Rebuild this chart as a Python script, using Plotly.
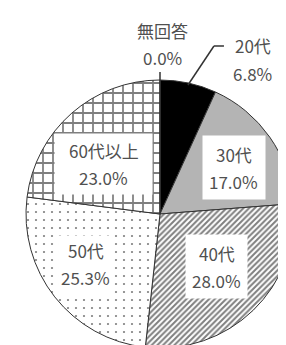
import math
import plotly.graph_objects as go

# ---- data ----
categories = ["20代", "30代", "40代", "50代", "60代以上", "無回答"]
values = [6.8, 17.0, 28.0, 25.3, 23.0, 0.0]
pct_labels = ["6.8%", "17.0%", "28.0%", "25.3%", "23.0%", "0.0%"]

# ---- style ----
W, H = 286, 345
CX, CY, R = 152, 206, 134
fills = ["#000000", "#b4b4b4", "#ffffff", "#ffffff", "#ffffff", "#ffffff"]
shapes_pat = ["", "", "/", ".", "+", ""]
pat_size = [8, 8, 4, 8, 10, 8]
pat_sol = [0.3, 0.3, 0.5, 0.06, 0.32, 0.3]
TXT = "#505050"
FONT = "Noto Sans CJK JP"
FS = 17

fig = go.Figure(go.Pie(
    labels=categories, values=values, sort=False, direction="clockwise",
    rotation=0, textinfo="none", hoverinfo="skip", showlegend=False,
    marker=dict(colors=fills, line=dict(color="#333333", width=1),
                pattern=dict(shape=shapes_pat, fgcolor="#000000", bgcolor="#ffffff",
                             size=pat_size, solidity=pat_sol, fillmode="overlay")),
    domain=dict(x=[(CX - R) / W, (CX + R) / W], y=[(H - CY - R) / H, (H - CY + R) / H]),
))

def px2paper(x, y):
    return x / W, 1 - y / H

total = sum(values)
cum = 0
mids = []
for v in values:
    mids.append((cum + v / 2) / total * 360)
    cum += v

annotations = []
shapes = []

# inside labels (slices 1..4) with white boxes
label_r = {1: 0.65, 2: 0.58, 3: 0.67, 4: 0.56}
label_da = {1: 3, 2: -3, 3: 4, 4: -7}
box_w = {1: 62, 2: 61, 3: 54, 4: 97}
box_h = {1: 63, 2: 63, 3: 57, 4: 60}
for i in [1, 2, 3, 4]:
    a = math.radians(mids[i] + label_da[i])
    r = label_r[i] * R
    x = CX + r * math.sin(a)
    y = CY - r * math.cos(a)
    bx, by = px2paper(x, y)
    annotations.append(dict(x=bx, y=by, xref="paper", yref="paper", text=" ",
                            showarrow=False, width=box_w[i], height=box_h[i],
                            bgcolor="#ffffff", borderpad=0, xanchor="center", yanchor="middle"))
    for txt, off in [(categories[i], -13.5), (pct_labels[i], 13.5)]:
        tx, ty = px2paper(x, y + off)
        annotations.append(dict(x=tx, y=ty, xref="paper", yref="paper", text=txt,
                                showarrow=False, font=dict(family=FONT, size=FS, color=TXT),
                                xanchor="center", yanchor="middle"))

# 無回答: short vertical leader at top
a0 = math.radians(mids[5])
ex, ey = CX + R * math.sin(a0), CY - R * math.cos(a0)
x0, y0 = px2paper(ex, ey)
x1, y1 = px2paper(ex, ey - 8)
shapes.append(dict(type="line", xref="paper", yref="paper", x0=x0, y0=y0, x1=x1, y1=y1,
                   line=dict(color="#333333", width=1.5)))
for txt, off in [(categories[5], -49), (pct_labels[5], -22)]:
    tx, ty = px2paper(ex + 3, ey + off)
    annotations.append(dict(x=tx, y=ty, xref="paper", yref="paper", text=txt, showarrow=False,
                            font=dict(family=FONT, size=FS, color=TXT),
                            xanchor="center", yanchor="middle"))

# 20代: diagonal leader with short horizontal tail
a1 = math.radians(mids[0])
sx, sy = CX + (R - 2) * math.sin(a1), CY - (R - 2) * math.cos(a1)
kx, ky = sx + 26, sy - 39
tx2 = kx + 10
p = [px2paper(sx, sy), px2paper(kx, ky), px2paper(tx2, ky)]
for (ax, ay), (bx_, by_) in [(p[0], p[1]), (p[1], p[2])]:
    shapes.append(dict(type="line", xref="paper", yref="paper", x0=ax, y0=ay, x1=bx_, y1=by_,
                       line=dict(color="#333333", width=1.5)))
for txt, off in [(categories[0], 0), (pct_labels[0], 28)]:
    tx, ty = px2paper(tx2 + 29, ky + off)
    annotations.append(dict(x=tx, y=ty, xref="paper", yref="paper", text=txt, showarrow=False,
                            font=dict(family=FONT, size=FS, color=TXT),
                            xanchor="center", yanchor="middle"))

fig.update_layout(width=W, height=H, margin=dict(l=0, r=0, t=0, b=0),
                  paper_bgcolor="#ffffff", plot_bgcolor="#ffffff",
                  annotations=annotations, shapes=shapes)
fig.write_html("out.html", config={"displayModeBar": False})
